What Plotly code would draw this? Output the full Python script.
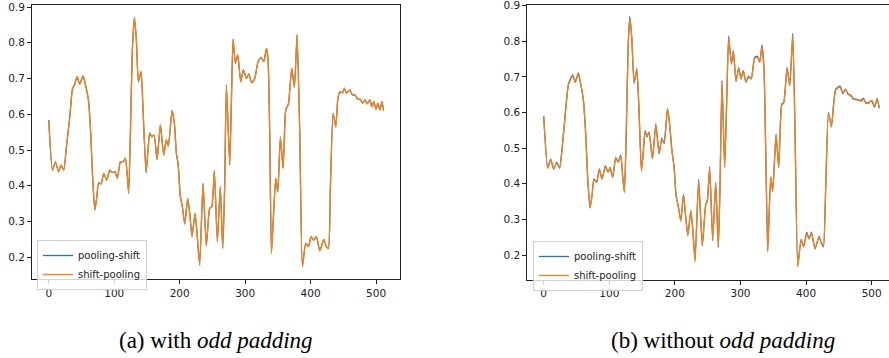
import plotly.graph_objects as go

# ---------------- data ----------------
# (a) with odd padding: both series coincide
a_x = [0, 5.6, 10.2, 14.8, 18.8, 22.9, 27, 32.1, 36.1, 39.2,
       43.3, 47.3, 52.4, 56.5, 60.6, 64.1, 66.7, 70.2, 72.8, 76.3,
       79.9, 84, 88.6, 93.2, 97.2, 101.3, 104.8, 109.4, 113.5, 117,
       120.1, 122.1, 124.7, 127.7, 130.8, 133.8, 136.9, 141, 144, 148.6,
       151.6, 154.2, 157.2, 160.8, 165.4, 170.5, 175.6, 179.6, 182.7, 188.3,
       191.9, 194.9, 197.5, 201, 204.1, 207.7, 212.2, 215.3, 218.8, 223.4,
       226.5, 230.5, 235.6, 240.7, 245.8, 249, 252.9, 257.5, 262.1, 265.7,
       268.7, 271.3, 276.4, 279, 281.5, 285.1, 288.7, 293.2, 297.3, 301.9,
       305.4, 310, 314.6, 319.7, 324.3, 328.4, 332.5, 335, 337.5, 340.1,
       343.2, 346.7, 349.8, 353.8, 357.9, 362, 366.1, 371.1, 375.2, 379.3,
       383.4, 387.4, 392.5, 396.6, 400.7, 404.7, 408.8, 413.9, 420, 424.1,
       427.2, 430.2, 434.3, 438.4, 441.4, 444.5, 448.6, 451.6, 454.7, 459.8,
       463.9, 468, 472.1, 476.1, 479.2, 483.3, 486.4, 490.5, 493.5, 496.6,
       499.7, 502.7, 505.8, 508.9, 511.4]
a_shift_pooling = [0.584, 0.444, 0.467, 0.439, 0.458, 0.444, 0.509, 0.593, 0.670, 0.682,
                   0.705, 0.684, 0.707, 0.679, 0.640, 0.547, 0.435, 0.332, 0.360, 0.409,
                   0.405, 0.435, 0.416, 0.444, 0.437, 0.439, 0.421, 0.467, 0.467, 0.477,
                   0.425, 0.379, 0.547, 0.780, 0.871, 0.808, 0.691, 0.719, 0.612, 0.437,
                   0.500, 0.548, 0.537, 0.542, 0.474, 0.570, 0.486, 0.528, 0.511, 0.610,
                   0.575, 0.491, 0.463, 0.370, 0.341, 0.293, 0.365, 0.323, 0.258, 0.323,
                   0.267, 0.178, 0.407, 0.232, 0.337, 0.341, 0.442, 0.244, 0.397, 0.225,
                   0.397, 0.682, 0.458, 0.640, 0.810, 0.743, 0.766, 0.691, 0.724, 0.700,
                   0.713, 0.688, 0.700, 0.747, 0.759, 0.747, 0.784, 0.752, 0.547, 0.211,
                   0.314, 0.421, 0.383, 0.537, 0.449, 0.612, 0.629, 0.729, 0.675, 0.822,
                   0.547, 0.174, 0.239, 0.230, 0.258, 0.248, 0.258, 0.218, 0.250, 0.230,
                   0.225, 0.397, 0.603, 0.565, 0.640, 0.663, 0.660, 0.673, 0.659, 0.668,
                   0.654, 0.654, 0.642, 0.642, 0.631, 0.640, 0.629, 0.640, 0.621, 0.635,
                   0.614, 0.631, 0.612, 0.635, 0.610]
a_pooling_shift = list(a_shift_pooling)

# (b) without odd padding
b_x = [0, 6.1, 10.6, 15.2, 19.8, 24.3, 28.9, 33.5, 37.6, 41.1,
       44.2, 48.2, 52.8, 56.4, 60.4, 64, 67, 70.6, 73.6, 76.7,
       80.8, 84.8, 88.9, 94, 98.1, 101.1, 105.2, 109.8, 113.4, 117.4,
       120.5, 123, 125.6, 128.6, 131.2, 134.2, 137.8, 141.9, 144.9, 149,
       152, 154.6, 157.6, 160.7, 165.8, 170.9, 175.9, 180, 183.6, 188.7,
       191.7, 195.3, 198.8, 201.9, 205.4, 209, 213.1, 216.1, 219.7, 224.3,
       227.3, 230.7, 236.2, 241.8, 246.9, 249.4, 253, 257.6, 262.2, 266.2,
       268.8, 271.8, 275.9, 278.9, 282, 286.1, 289.1, 293.2, 297.2, 300.8,
       304.3, 308.4, 312.5, 316.5, 321.6, 325.7, 329.3, 332.8, 335.9, 338.9,
       341.5, 346.1, 349.1, 354.2, 358.3, 362.9, 365.9, 371, 375.1, 379.7,
       383.2, 387.3, 392.4, 396.4, 401, 404.6, 408.1, 413.7, 419.8, 422.9,
       426.4, 430, 434.1, 438.7, 441.7, 444.8, 448.3, 451.9, 456, 460,
       464.1, 468.2, 472.2, 476.3, 480.4, 483.4, 487.5, 491.6, 495.6, 500.2,
       504.3, 508.4, 511.4]
b_shift_pooling = [0.588, 0.443, 0.467, 0.443, 0.458, 0.446, 0.514, 0.607, 0.677, 0.693,
                   0.703, 0.687, 0.708, 0.682, 0.635, 0.542, 0.420, 0.331, 0.364, 0.411,
                   0.406, 0.439, 0.415, 0.448, 0.434, 0.443, 0.420, 0.472, 0.462, 0.478,
                   0.420, 0.375, 0.523, 0.776, 0.865, 0.813, 0.684, 0.721, 0.626, 0.434,
                   0.495, 0.546, 0.534, 0.543, 0.472, 0.565, 0.486, 0.525, 0.515, 0.609,
                   0.574, 0.495, 0.448, 0.364, 0.336, 0.294, 0.368, 0.317, 0.253, 0.326,
                   0.270, 0.181, 0.406, 0.228, 0.339, 0.350, 0.443, 0.242, 0.401, 0.223,
                   0.392, 0.687, 0.448, 0.626, 0.811, 0.738, 0.771, 0.689, 0.724, 0.696,
                   0.715, 0.687, 0.699, 0.696, 0.752, 0.755, 0.743, 0.785, 0.720, 0.448,
                   0.209, 0.420, 0.378, 0.537, 0.448, 0.621, 0.626, 0.724, 0.677, 0.818,
                   0.542, 0.167, 0.242, 0.225, 0.261, 0.247, 0.261, 0.219, 0.250, 0.237,
                   0.225, 0.392, 0.598, 0.562, 0.616, 0.661, 0.668, 0.671, 0.656, 0.663,
                   0.654, 0.646, 0.640, 0.635, 0.637, 0.631, 0.637, 0.628, 0.626, 0.635,
                   0.618, 0.637, 0.615]
b_pooling_shift = [0.590, 0.445, 0.469, 0.441, 0.460, 0.444, 0.516, 0.609, 0.679, 0.696,
                   0.706, 0.685, 0.711, 0.680, 0.637, 0.540, 0.418, 0.333, 0.366, 0.414,
                   0.404, 0.442, 0.413, 0.451, 0.432, 0.446, 0.418, 0.475, 0.460, 0.481,
                   0.418, 0.377, 0.521, 0.779, 0.870, 0.811, 0.682, 0.724, 0.624, 0.436,
                   0.493, 0.549, 0.532, 0.546, 0.470, 0.568, 0.484, 0.528, 0.513, 0.612,
                   0.572, 0.497, 0.446, 0.366, 0.334, 0.297, 0.371, 0.315, 0.256, 0.324,
                   0.272, 0.185, 0.412, 0.226, 0.341, 0.353, 0.448, 0.240, 0.404, 0.221,
                   0.395, 0.690, 0.446, 0.629, 0.815, 0.736, 0.774, 0.687, 0.727, 0.694,
                   0.718, 0.685, 0.702, 0.694, 0.755, 0.758, 0.741, 0.790, 0.718, 0.446,
                   0.212, 0.418, 0.380, 0.540, 0.446, 0.624, 0.628, 0.727, 0.675, 0.822,
                   0.540, 0.170, 0.244, 0.223, 0.264, 0.245, 0.264, 0.217, 0.253, 0.235,
                   0.223, 0.395, 0.601, 0.560, 0.619, 0.664, 0.671, 0.674, 0.653, 0.666,
                   0.651, 0.649, 0.637, 0.638, 0.634, 0.634, 0.640, 0.625, 0.629, 0.632,
                   0.615, 0.640, 0.612]

x_ticks = [0, 100, 200, 300, 400, 500]
y_ticks = [0.2, 0.3, 0.4, 0.5, 0.6, 0.7, 0.8, 0.9]
captions = ["(a) with <i>odd padding</i>", "(b) without <i>odd padding</i>"]

BLUE = "#1f77b4"
ORANGE = "#ff7f0e"
W, H = 889, 358

fig = go.Figure()
line_kw = dict(shape="spline", smoothing=0.5, width=1.3)

fig.add_trace(go.Scatter(x=a_x, y=a_pooling_shift, mode="lines", name="pooling-shift",
                         line=dict(color=BLUE, **line_kw), xaxis="x", yaxis="y", legend="legend"))
fig.add_trace(go.Scatter(x=a_x, y=a_shift_pooling, mode="lines", name="shift-pooling",
                         line=dict(color=ORANGE, **line_kw), xaxis="x", yaxis="y", legend="legend"))
fig.add_trace(go.Scatter(x=b_x, y=b_pooling_shift, mode="lines", name="pooling-shift",
                         line=dict(color=BLUE, **line_kw), xaxis="x2", yaxis="y2", legend="legend2"))
fig.add_trace(go.Scatter(x=b_x, y=b_shift_pooling, mode="lines", name="shift-pooling",
                         line=dict(color=ORANGE, **line_kw), xaxis="x2", yaxis="y2", legend="legend2"))

tickfont = dict(family="DejaVu Sans", size=10.5, color="#222")
common_x = dict(tickvals=x_ticks, ticks="outside", ticklen=4, tickcolor="#222",
                showline=True, linecolor="#222", linewidth=1, showgrid=False, zeroline=False,
                tickfont=tickfont, mirror=True, automargin=False, ticklabeloverflow="allow")
common_y = dict(tickvals=y_ticks, tickformat=".1f", ticks="outside", ticklen=4, tickcolor="#222",
                showline=True, linecolor="#222", linewidth=1, showgrid=False, zeroline=False,
                tickfont=tickfont, automargin=False, ticklabeloverflow="allow")

legend_kw = dict(font=dict(family="DejaVu Sans", size=10, color="#222"),
                 bgcolor="rgba(255,255,255,0.8)", bordercolor="#d0d0d0", borderwidth=1,
                 xanchor="left", yanchor="top", tracegroupgap=0, itemwidth=30)

caption_font = dict(family="Liberation Serif", size=23, color="black")

fig.update_layout(
    width=W, height=H,
    margin=dict(l=0, r=0, t=0, b=0, autoexpand=False),
    paper_bgcolor="white", plot_bgcolor="white",
    xaxis=dict(domain=[32 / W, 400 / W], range=[-25.6, 536.5], anchor="y", **common_x),
    yaxis=dict(domain=[1 - 279.3 / H, 1 - 5 / H], range=[0.1385, 0.9056], anchor="x", mirror=True, **common_y),
    xaxis2=dict(domain=[527.3 / W, 1.0], range=[-25.0, 526.4], anchor="y2", **common_x),
    yaxis2=dict(domain=[1 - 279.5 / H, 1 - 5 / H], range=[0.1312, 0.902], anchor="x2", **common_y),
    legend=dict(x=37 / W, y=1 - 240 / H, **legend_kw),
    legend2=dict(x=533 / W, y=1 - 241 / H, **legend_kw),
    annotations=[
        dict(text=captions[0], x=216 / W, y=1 - 340 / H, xref="paper", yref="paper",
             xanchor="center", yanchor="middle", showarrow=False, font=caption_font),
        dict(text=captions[1], x=723 / W, y=1 - 340 / H, xref="paper", yref="paper",
             xanchor="center", yanchor="middle", showarrow=False, font=caption_font),
    ],
)

fig.write_html("out.html", config={"displayModeBar": False},
               post_script="document.body.style.margin='0';document.body.style.overflow='hidden';")
